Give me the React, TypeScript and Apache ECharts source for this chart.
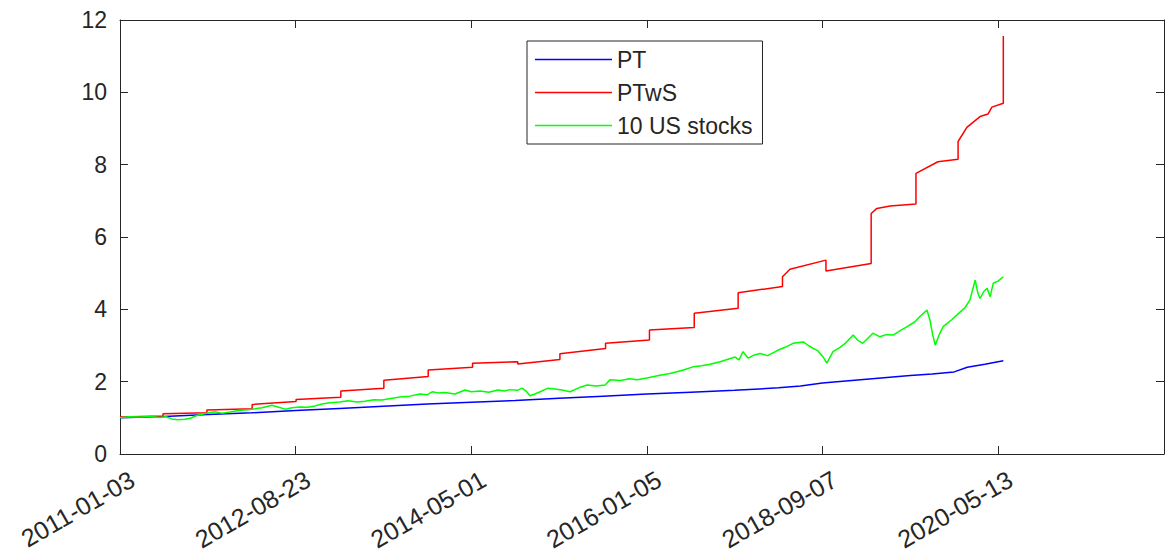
import React, { useEffect, useRef } from "react";
import * as echarts from "echarts";

const xTickValues = [0, 400, 800, 1200, 1600, 2000];
const xTickLabels = ["2011-01-03", "2012-08-23", "2014-05-01", "2016-01-05", "2018-09-07", "2020-05-13"];
const seriesNames = ["PT", "PTwS", "10 US stocks"];

const ptData: [number, number][] = [
  [0, 1.0], [100, 1.04], [200, 1.09], [300, 1.14], [400, 1.2], [500, 1.26], [600, 1.32],
  [700, 1.38], [800, 1.43], [900, 1.48], [1000, 1.54], [1100, 1.6], [1200, 1.66], [1300, 1.71],
  [1400, 1.76], [1500, 1.83], [1550, 1.88], [1600, 1.96], [1700, 2.07], [1800, 2.17],
  [1850, 2.21], [1900, 2.27], [1930, 2.4], [1970, 2.48], [2012, 2.58],
];

const ptwsData: [number, number][] = [
  [0, 1.02], [98, 1.05], [98, 1.11], [198, 1.14], [198, 1.22], [301, 1.25], [301, 1.37],
  [401, 1.45], [401, 1.51], [503, 1.57], [503, 1.74], [601, 1.82], [601, 2.04], [702, 2.14],
  [702, 2.32], [803, 2.4], [803, 2.51], [906, 2.55], [906, 2.49], [1002, 2.61], [1002, 2.77],
  [1106, 2.92], [1106, 3.06], [1206, 3.15], [1206, 3.43], [1308, 3.5], [1308, 3.89],
  [1408, 4.03], [1408, 4.46], [1509, 4.63], [1509, 4.9], [1526, 5.11], [1608, 5.36],
  [1608, 5.06], [1711, 5.27], [1711, 6.65], [1724, 6.79], [1754, 6.86], [1813, 6.91],
  [1813, 7.76], [1863, 8.08], [1909, 8.15], [1909, 8.64], [1929, 9.03], [1959, 9.33],
  [1977, 9.4], [1986, 9.59], [2012, 9.7], [2012, 11.56],
];

const stocksData: [number, number][] = [
  [0, 1.0], [20, 1.03], [46, 1.02], [70, 1.04], [91, 1.01], [105, 1.03], [118, 0.97],
  [132, 0.95], [148, 0.96], [160, 0.99], [178, 1.08], [195, 1.12], [216, 1.17], [232, 1.13],
  [251, 1.16], [270, 1.2], [292, 1.22], [308, 1.25], [323, 1.28], [346, 1.35], [360, 1.3],
  [376, 1.24], [392, 1.28], [410, 1.3], [428, 1.29], [444, 1.33], [460, 1.38], [478, 1.42],
  [500, 1.44], [519, 1.47], [540, 1.44], [558, 1.46], [578, 1.5], [597, 1.49], [620, 1.54],
  [642, 1.58], [660, 1.6], [683, 1.66], [700, 1.64], [711, 1.72], [725, 1.69], [740, 1.7],
  [763, 1.66], [786, 1.77], [800, 1.72], [820, 1.74], [840, 1.71], [861, 1.77], [875, 1.74],
  [888, 1.78], [905, 1.76], [916, 1.82], [925, 1.74], [934, 1.61], [945, 1.66], [957, 1.72],
  [975, 1.82], [990, 1.8], [1007, 1.77], [1025, 1.72], [1045, 1.83], [1064, 1.91],
  [1085, 1.88], [1105, 1.91], [1116, 2.05], [1140, 2.03], [1160, 2.08], [1178, 2.05],
  [1200, 2.1], [1230, 2.18], [1250, 2.22], [1264, 2.26], [1285, 2.33], [1305, 2.41],
  [1325, 2.44], [1344, 2.48], [1367, 2.55], [1385, 2.62], [1401, 2.68], [1410, 2.6],
  [1419, 2.83], [1431, 2.65], [1445, 2.74], [1458, 2.78], [1475, 2.72], [1497, 2.86],
  [1515, 2.95], [1533, 3.06], [1556, 3.1], [1568, 3.0], [1579, 2.92], [1590, 2.85],
  [1601, 2.69], [1610, 2.51], [1624, 2.83], [1640, 2.95], [1651, 3.05], [1670, 3.29],
  [1680, 3.15], [1692, 3.06], [1715, 3.34], [1731, 3.24], [1745, 3.3], [1761, 3.29],
  [1778, 3.42], [1793, 3.52], [1810, 3.65], [1822, 3.8], [1838, 3.98], [1845, 3.7],
  [1851, 3.3], [1857, 3.01], [1866, 3.3], [1875, 3.52], [1895, 3.72], [1914, 3.93],
  [1925, 4.05], [1936, 4.26], [1948, 4.81], [1954, 4.45], [1959, 4.3], [1968, 4.5],
  [1975, 4.58], [1982, 4.35], [1989, 4.72], [2000, 4.78], [2012, 4.9],
];

const FONT = "Liberation Sans, Arial, Helvetica, sans-serif";
const AXIS = "#262626";

export default function App() {
  const ref = useRef<HTMLDivElement>(null);
  useEffect(() => {
    if (!ref.current) return;
    const chart = echarts.init(ref.current, undefined, { renderer: "svg" });
    const xFmt = (v: number) => {
      const i = xTickValues.indexOf(Math.round(v));
      return i >= 0 ? xTickLabels[i] : "";
    };
    const common = {
      min: 0,
      axisLine: { show: true, onZero: false, lineStyle: { color: AXIS, width: 1 } },
      splitLine: { show: false },
      axisTick: { show: true, inside: true, length: 8, lineStyle: { color: AXIS } },
    };
    chart.setOption({
      animation: false,
      backgroundColor: "#ffffff",
      grid: {
        left: 120,
        right: 3,
        top: 20,
        bottom: 103,
        containLabel: false,
        outerBoundsMode: "none",
      },
      legend: {
        data: seriesNames,
        orient: "vertical",
        left: 527,
        top: 41,
        padding: [7, 10, 7, 8],
        icon: "rect",
        itemWidth: 77,
        itemHeight: 1.5,
        itemGap: 10,
        borderColor: AXIS,
        borderWidth: 1,
        backgroundColor: "#ffffff",
        textStyle: { fontFamily: FONT, fontSize: 23, color: AXIS, lineHeight: 23 },
      },
      xAxis: [
        {
          ...common,
          type: "value",
          max: 2378,
          interval: 400,
          position: "bottom",
          axisLabel: {
            formatter: xFmt,
            rotate: 30,
            margin: 16,
            align: "right",
            verticalAlign: "top",
            padding: [0, -7, 0, 0],
            fontFamily: FONT,
            fontSize: 25,
            color: AXIS,
            showMaxLabel: false,
          },
        },
        {
          ...common,
          type: "value",
          max: 2378,
          interval: 400,
          position: "top",
          axisLabel: { show: false },
        },
      ],
      yAxis: [
        {
          ...common,
          type: "value",
          max: 12,
          interval: 2,
          position: "left",
          axisLabel: { margin: 13, fontFamily: FONT, fontSize: 23, color: AXIS },
        },
        {
          ...common,
          type: "value",
          max: 12,
          interval: 2,
          position: "right",
          axisLabel: { show: false },
        },
      ],
      series: [
        { name: seriesNames[0], type: "line", data: ptData, color: "#0000ff" },
        { name: seriesNames[1], type: "line", data: ptwsData, color: "#ff0000" },
        { name: seriesNames[2], type: "line", data: stocksData, color: "#00ff00" },
      ].map((s) => ({
        ...s,
        xAxisIndex: 0,
        yAxisIndex: 0,
        symbol: "none",
        showSymbol: false,
        lineStyle: { width: 1.5, color: s.color },
        itemStyle: { color: s.color },
      })),
    });
    return () => chart.dispose();
  }, []);
  return (
    <div
      ref={ref}
      style={{ position: "fixed", left: 0, top: 0, width: 1167, height: 557, background: "#fff" }}
    />
  );
}
